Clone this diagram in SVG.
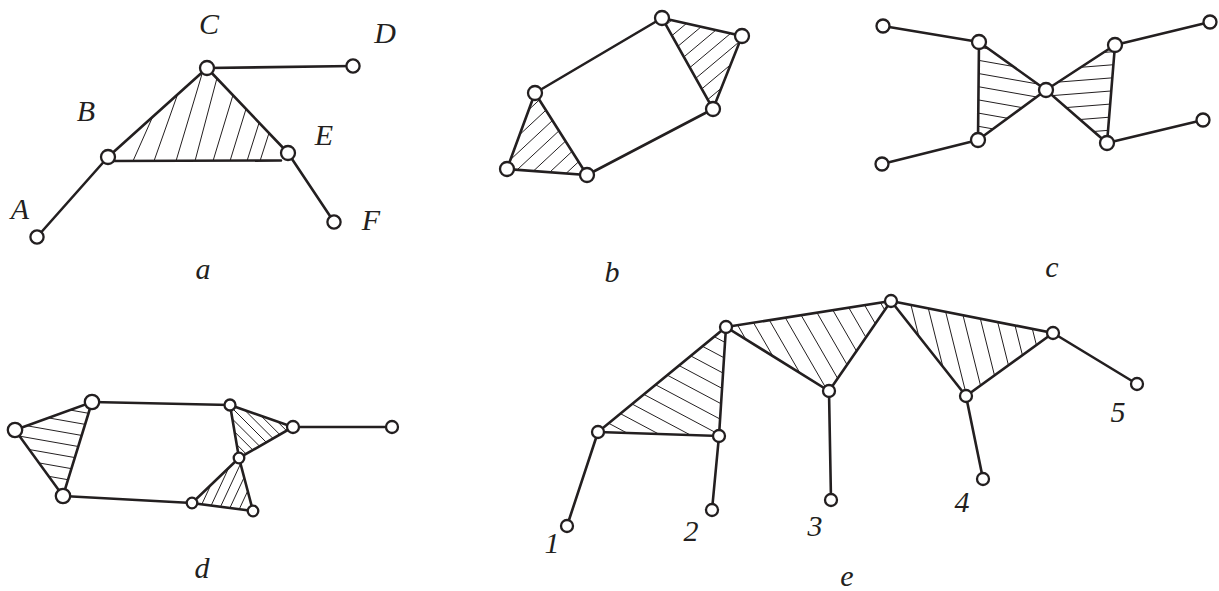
<svg xmlns="http://www.w3.org/2000/svg" width="1219" height="591" viewBox="0 0 1219 591">
<style>
.e{stroke:#231f20;stroke-width:2.6;fill:none;stroke-linecap:round}
.h{stroke:#231f20;stroke-width:1;fill:none}
.n{fill:#fff;stroke:#231f20;stroke-width:2.3}
.t{font-family:"Liberation Serif","Times New Roman",serif;font-style:italic;font-size:30px;fill:#231f20;text-anchor:middle}
</style>
<defs>
<path id="L" class="h" vector-effect="non-scaling-stroke" d="M-20-20v40M-19-20v40M-18-20v40M-17-20v40M-16-20v40M-15-20v40M-14-20v40M-13-20v40M-12-20v40M-11-20v40M-10-20v40M-9-20v40M-8-20v40M-7-20v40M-6-20v40M-5-20v40M-4-20v40M-3-20v40M-2-20v40M-1-20v40M0-20v40M1-20v40M2-20v40M3-20v40M4-20v40M5-20v40M6-20v40M7-20v40M8-20v40M9-20v40M10-20v40M11-20v40M12-20v40M13-20v40M14-20v40M15-20v40M16-20v40M17-20v40M18-20v40M19-20v40M20-20v40"/>
<clipPath id="cb1"><polygon points="662,18 742,36 713,109"/></clipPath>
<clipPath id="cb2"><polygon points="535,93 507,169 587,175"/></clipPath>
<clipPath id="cc1"><polygon points="979,42 1046,90 978,140"/></clipPath>
<clipPath id="cc2"><polygon points="1046,90 1115,45 1107,143"/></clipPath>
<clipPath id="cd1"><polygon points="15,430 92,402 63,496"/></clipPath>
<clipPath id="cd2"><polygon points="230,405 293,427 239,458"/></clipPath>
<clipPath id="cd3"><polygon points="239,458 192,503 253,511"/></clipPath>
<clipPath id="ce1"><polygon points="598,432 719,436 726,327"/></clipPath>
<clipPath id="ce2"><polygon points="726,327 891,301 829,391"/></clipPath>
<clipPath id="ce3"><polygon points="891,301 1053,333 966,396"/></clipPath>
</defs>
<rect width="1219" height="591" fill="#fff"/>

<!-- ===== a ===== -->
<g id="fig-a">
<g id="a-hatch">
<line class="h" x1="133" y1="161" x2="153" y2="116"/>
<line class="h" x1="154" y1="161" x2="177" y2="96"/>
<line class="h" x1="176" y1="161" x2="202" y2="74"/>
<line class="h" x1="195" y1="161" x2="217" y2="78"/>
<line class="h" x1="213" y1="161" x2="233" y2="95"/>
<line class="h" x1="230" y1="161" x2="246" y2="109"/>
<line class="h" x1="247" y1="161" x2="259" y2="123"/>
<line class="h" x1="260" y1="161" x2="269" y2="133"/>
</g>
<g id="a-connectors">
<line class="e" x1="37" y1="237" x2="108" y2="157"/>
<line class="e" x1="108" y1="157" x2="207" y2="68"/>
<line class="e" x1="207" y1="68" x2="288" y2="153"/>
<line class="e" x1="288" y1="153" x2="334" y2="222"/>
<line class="e" x1="207" y1="68" x2="353" y2="66"/>
<line class="e" x1="110" y1="161" x2="281" y2="160.5"/>
</g>
<g id="a-A"><circle class="n" cx="37" cy="237" r="6.6"/><text class="t" x="20" y="219">A</text></g>
<g id="a-B"><circle class="n" cx="108" cy="157" r="7"/><text class="t" x="86" y="121">B</text></g>
<g id="a-C"><circle class="n" cx="207" cy="68" r="7"/><text class="t" x="209" y="34">C</text></g>
<g id="a-D"><circle class="n" cx="353" cy="66" r="6.6"/><text class="t" x="385" y="43">D</text></g>
<g id="a-E"><circle class="n" cx="288" cy="153" r="7"/><text class="t" x="324" y="145">E</text></g>
<g id="a-F"><circle class="n" cx="334" cy="222" r="6.6"/><text class="t" x="371" y="230">F</text></g>
<text id="a-label" class="t" x="203" y="279">a</text>
</g>

<!-- ===== b ===== -->
<g id="fig-b">
<g id="b-hatch">
<g clip-path="url(#cb1)"><use href="#L" transform="translate(705.7,54.3) rotate(50) scale(12)"/></g>
<g clip-path="url(#cb2)"><use href="#L" transform="translate(543,145.7) rotate(47) scale(12)"/></g>
</g>
<g id="b-connectors">
<polygon class="e" points="662,18 742,36 713,109"/>
<polygon class="e" points="535,93 507,169 587,175"/>
<line class="e" x1="535" y1="93" x2="662" y2="18"/>
<line class="e" x1="587" y1="175" x2="713" y2="109"/>
</g>
<g id="b-n1"><circle class="n" cx="662" cy="18" r="7"/></g>
<g id="b-n2"><circle class="n" cx="742" cy="36" r="7"/></g>
<g id="b-n3"><circle class="n" cx="713" cy="109" r="7"/></g>
<g id="b-n4"><circle class="n" cx="535" cy="93" r="7"/></g>
<g id="b-n5"><circle class="n" cx="507" cy="169" r="7"/></g>
<g id="b-n6"><circle class="n" cx="587" cy="175" r="7"/></g>
<text id="b-label" class="t" x="612" y="282">b</text>
</g>

<!-- ===== c ===== -->
<g id="fig-c">
<g id="c-hatch">
<g clip-path="url(#cc1)"><use href="#L" transform="translate(1001,90.7) rotate(100) scale(13)"/></g>
<g clip-path="url(#cc2)"><use href="#L" transform="translate(1089.3,92.7) rotate(85.5) scale(13)"/></g>
</g>
<g id="c-connectors">
<polygon class="e" points="979,42 1046,90 978,140"/>
<polygon class="e" points="1046,90 1115,45 1107,143"/>
<line class="e" x1="883" y1="26" x2="979" y2="42"/>
<line class="e" x1="882" y1="164" x2="978" y2="140"/>
<line class="e" x1="1115" y1="45" x2="1210" y2="22"/>
<line class="e" x1="1107" y1="143" x2="1203" y2="120"/>
</g>
<g id="c-n1"><circle class="n" cx="883" cy="26" r="6.5"/></g>
<g id="c-n2"><circle class="n" cx="979" cy="42" r="7"/></g>
<g id="c-n3"><circle class="n" cx="1046" cy="90" r="7"/></g>
<g id="c-n4"><circle class="n" cx="978" cy="140" r="7"/></g>
<g id="c-n5"><circle class="n" cx="882" cy="164" r="6.5"/></g>
<g id="c-n6"><circle class="n" cx="1115" cy="45" r="7"/></g>
<g id="c-n7"><circle class="n" cx="1210" cy="22" r="6.5"/></g>
<g id="c-n8"><circle class="n" cx="1107" cy="143" r="7"/></g>
<g id="c-n9"><circle class="n" cx="1203" cy="120" r="6.5"/></g>
<text id="c-label" class="t" x="1052" y="277">c</text>
</g>

<!-- ===== d ===== -->
<g id="fig-d">
<g id="d-hatch">
<g clip-path="url(#cd1)"><use href="#L" transform="translate(56.7,442.7) rotate(100) scale(11.5)"/></g>
<g clip-path="url(#cd2)"><use href="#L" transform="translate(254,430) rotate(-45) scale(7.5)"/></g>
<g clip-path="url(#cd3)"><use href="#L" transform="translate(228,490.7) rotate(25) scale(9)"/></g>
</g>
<g id="d-connectors">
<polygon class="e" points="15,430 92,402 63,496"/>
<polygon class="e" points="230,405 293,427 239,458"/>
<polygon class="e" points="239,458 192,503 253,511"/>
<line class="e" x1="92" y1="402" x2="230" y2="405"/>
<line class="e" x1="63" y1="496" x2="192" y2="503"/>
<line class="e" x1="293" y1="427" x2="392" y2="427"/>
</g>
<g id="d-n1"><circle class="n" cx="15" cy="430" r="7.2"/></g>
<g id="d-n2"><circle class="n" cx="92" cy="402" r="7.2"/></g>
<g id="d-n3"><circle class="n" cx="63" cy="496" r="7.2"/></g>
<g id="d-n4"><circle class="n" cx="230" cy="405" r="5.5"/></g>
<g id="d-n5"><circle class="n" cx="293" cy="427" r="6"/></g>
<g id="d-n6"><circle class="n" cx="392" cy="427" r="6"/></g>
<g id="d-n7"><circle class="n" cx="239" cy="458" r="5.3"/></g>
<g id="d-n8"><circle class="n" cx="192" cy="503" r="5.3"/></g>
<g id="d-n9"><circle class="n" cx="253" cy="511" r="5.3"/></g>
<text id="d-label" class="t" x="202" y="578">d</text>
</g>

<!-- ===== e ===== -->
<g id="fig-e">
<g id="e-hatch">
<g clip-path="url(#ce1)"><use href="#L" transform="translate(681,398.3) rotate(118) scale(14)"/></g>
<g clip-path="url(#ce2)"><use href="#L" transform="translate(815.3,339.7) rotate(-30) scale(15)"/></g>
<g clip-path="url(#ce3)"><use href="#L" transform="translate(970,343.3) rotate(-14) scale(16)"/></g>
</g>
<g id="e-connectors">
<polygon class="e" points="598,432 719,436 726,327"/>
<polygon class="e" points="726,327 891,301 829,391"/>
<polygon class="e" points="891,301 1053,333 966,396"/>
<line class="e" x1="598" y1="432" x2="567" y2="526"/>
<line class="e" x1="719" y1="436" x2="712" y2="510"/>
<line class="e" x1="829" y1="391" x2="831" y2="500"/>
<line class="e" x1="966" y1="396" x2="983" y2="479"/>
<line class="e" x1="1053" y1="333" x2="1137" y2="384"/>
</g>
<g id="e-n1"><circle class="n" cx="598" cy="432" r="6"/></g>
<g id="e-n2"><circle class="n" cx="719" cy="436" r="6"/></g>
<g id="e-n3"><circle class="n" cx="726" cy="327" r="6"/></g>
<g id="e-n4"><circle class="n" cx="829" cy="391" r="6"/></g>
<g id="e-n5"><circle class="n" cx="891" cy="301" r="6"/></g>
<g id="e-n6"><circle class="n" cx="966" cy="396" r="6"/></g>
<g id="e-n7"><circle class="n" cx="1053" cy="333" r="6"/></g>
<g id="e-leaf1"><circle class="n" cx="567" cy="526" r="6"/><text class="t" x="552" y="553">1</text></g>
<g id="e-leaf2"><circle class="n" cx="712" cy="510" r="6"/><text class="t" x="691" y="541">2</text></g>
<g id="e-leaf3"><circle class="n" cx="831" cy="500" r="6"/><text class="t" x="815" y="536">3</text></g>
<g id="e-leaf4"><circle class="n" cx="983" cy="479" r="6"/><text class="t" x="962" y="512">4</text></g>
<g id="e-leaf5"><circle class="n" cx="1137" cy="384" r="6"/><text class="t" x="1118" y="422">5</text></g>
<text id="e-label" class="t" x="847" y="586">e</text>
</g>
</svg>
